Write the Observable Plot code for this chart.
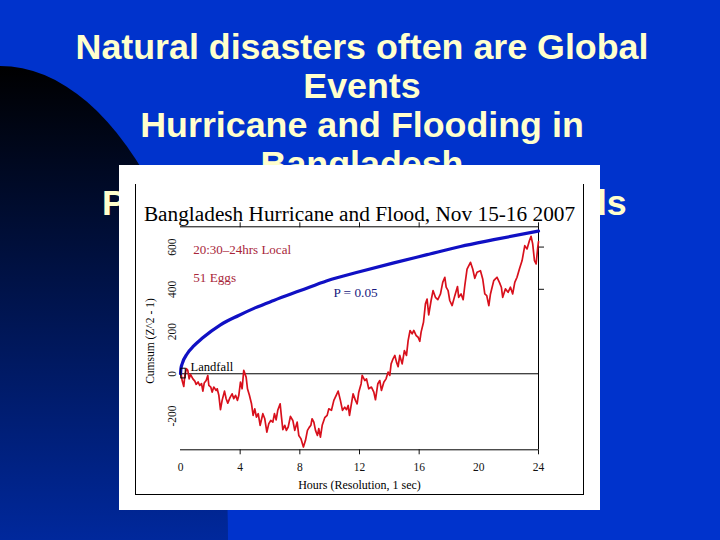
<!DOCTYPE html>
<html><head><meta charset="utf-8">
<script src="https://cdn.jsdelivr.net/npm/d3@7"></script>
<script src="https://cdn.jsdelivr.net/npm/@observablehq/plot@0.6"></script>
<style>
html,body{margin:0;padding:0;background:#0033cc;width:720px;height:540px;overflow:hidden}
#shape{position:absolute;left:-228px;top:66px;width:456px;height:948px;border-radius:50%;background:linear-gradient(#000 0,#00289c 474px,#00289c 100%)}
.t{position:absolute;left:2px;width:720px;text-align:center;font:bold 35.8px/39px "Liberation Sans",sans-serif;color:#ffffcc;white-space:nowrap}
#box{position:absolute;left:119px;top:165px;width:481px;height:345px;background:#fff}
#box svg{display:block;background:transparent}
#frame{position:absolute;left:135px;top:184px;width:447px;height:310px;border:1px solid #000;border-top:none;pointer-events:none}
</style></head><body>
<div id="shape"></div>
<div class="t" style="top:28px">Natural disasters often are Global</div>
<div class="t" style="top:67px">Events</div>
<div class="t" style="top:106px">Hurricane and Flooding in</div>
<div class="t" style="top:145px">Bangladesh</div>
<div class="t" style="top:184px;left:102px;width:auto">P</div>
<div class="t" style="top:184px;left:585px;width:auto">ds</div>
<div id="box"></div>
<div id="frame"></div>
<script>
const chartTitle = "Bangladesh Hurricane and Flood, Nov 15-16 2007";
const xLabel = "Hours (Resolution, 1 sec)";
const yLabel = "Cumsum (Z^2 - 1)";
const hourLabels = [0,4,8,12,16,20,24];
const hourTicks = [4,8,12,16,24];
const valueLabels = [-200,0,200,400,600];
const rightTicks = [400,600];

const envelopeHours = [0,0.03,0.11,0.45,0.89,1.45,2.68,3.9,5,6.25,8.04,9.83,12.06,14.3,16.53,18.77,21,24];
const envelopeValues = [0,25,47,95,132,168,232,276,312,347,394,441,484,525,564,603,635,676];

const redHours = [0,0.04,0.11,0.22,0.29,0.40,0.49,0.58,0.67,0.83,0.96,1.05,1.18,1.29,1.41,1.50,1.59,1.72,1.83,1.90,2.03,2.12,2.23,2.39,2.46,2.57,2.68,2.79,2.95,3.06,3.17,3.31,3.46,3.57,3.69,3.82,3.91,4.02,4.13,4.24,4.40,4.49,4.62,4.76,4.87,4.98,5.09,5.21,5.34,5.52,5.65,5.79,5.92,6.05,6.19,6.30,6.41,6.52,6.68,6.77,6.86,6.99,7.10,7.22,7.37,7.53,7.66,
7.82,7.93,8.07,8.24,8.38,8.51,8.62,8.74,8.82,8.94,9.05,9.18,9.27,9.38,9.50,9.67,9.83,9.94,10.12,10.28,10.43,10.57,10.72,10.86,11.01,11.13,11.24,11.33,11.44,11.57,11.73,11.84,11.95,12.11,12.18,12.36,12.47,12.62,12.80,12.96,13.07,13.23,13.36,13.47,13.63,13.78,13.92,14.03,14.12,14.25,14.37,14.48,14.59,14.70,14.86,15.01,15.15,15.26,
15.39,15.53,15.64,15.80,15.93,16.04,16.13,16.29,16.42,16.53,16.64,16.80,16.93,17.09,17.25,17.43,17.58,17.72,17.81,17.94,18.05,18.21,18.39,18.57,18.65,18.81,18.95,19.06,19.21,19.44,19.59,19.73,19.88,20.11,20.26,20.40,20.53,20.67,20.78,20.89,21.0,21.11,21.22,21.38,21.51,21.60,21.78,21.96,22.12,22.27,22.41,22.56,22.72,22.90,23.08,23.23,23.39,23.50,23.61,23.73,23.84,23.95,24.0];
const redValues = [0,0,-32,-60,-8,24,16,-24,-3,-24,-35,-50,-39,-55,-47,-82,-44,-32,-8,-55,-63,-87,-63,-79,-71,-102,-170,-126,-82,-118,-139,-114,-95,-118,-102,-126,-102,-39,-71,16,-16,-71,-102,-142,-197,-166,-205,-189,-244,-189,-213,-276,-236,-221,-229,-189,-218,-173,-142,-205,-265,-244,-268,-252,-202,-221,-268,
-229,-292,-307,-347,-315,-268,-255,-244,-213,-229,-268,-292,-260,-300,-244,-208,-197,-166,-173,-126,-103,-82,-126,-173,-158,-170,-150,-197,-150,-95,-126,-142,-87,-47,-8,-32,-24,-71,-63,-87,-123,-47,-32,-79,-40,-24,8,-8,47,71,87,55,34,87,47,110,87,157,
205,189,205,181,173,154,197,244,331,354,279,347,394,362,351,378,433,457,410,394,347,323,370,413,362,378,351,418,496,528,496,452,481,488,449,378,370,323,378,410,441,449,457,433,410,362,402,386,410,378,433,457,496,536,607,591,630,651,615,536,520,599,626];

const envelope = envelopeHours.map((h,i)=>({h,v:envelopeValues[i]}));
const red = redHours.map((h,i)=>({h,v:redValues[i]}));
const serif = "Liberation Serif, serif";

const chart = Plot.plot({
  width:481,height:345,
  marginLeft:61,marginRight:62,marginTop:61.3,marginBottom:60.7,
  style:{background:"transparent",fontFamily:serif,fontSize:"11.5px",color:"#111"},
  x:{domain:[0,24]},
  y:{domain:[-360,696]},
  marks:[
    Plot.ruleY([-360,0,696],{x1:0,x2:24,stroke:"#000",strokeWidth:1}),
    Plot.ruleX([24],{y1:-360,y2:696,stroke:"#000",strokeWidth:1}),
    Plot.axisX({ticks:hourTicks,anchor:"bottom",tickSize:5,tickFormat:()=>"",label:null}),
    Plot.axisX({ticks:hourTicks,anchor:"top",tickSize:5,tickFormat:()=>"",label:null}),
    Plot.axisY({ticks:rightTicks,anchor:"right",tickSize:5,tickFormat:()=>"",label:null}),
    Plot.axisX({ticks:hourLabels,anchor:"bottom",tickSize:0,tickPadding:13,label:null,tickFormat:d=>String(d)}),
    Plot.axisY({ticks:valueLabels,anchor:"left",tickSize:0,tickPadding:5,label:null,tickRotate:-90,textAnchor:"middle",tickFormat:d=>String(d)}),
    Plot.line(red,{x:"h",y:"v",stroke:"#d8101c",strokeWidth:1.7,curve:"linear"}),
    Plot.line(envelope,{x:"h",y:"v",stroke:"#1010c4",strokeWidth:3.2,curve:"monotone-x"}),
    Plot.rect([{x1:0.05,x2:0.35,y1:-22,y2:24}],{x1:"x1",x2:"x2",y1:"y1",y2:"y2",fill:"none",stroke:"#000",strokeWidth:1}),
    Plot.text([chartTitle],{x:[12],y:[757],text:d=>d,fontSize:21.3,fill:"#000",fontFamily:serif}),
    Plot.text(["20:30–24hrs Local"],{x:[0.85],y:[585],text:d=>d,fontSize:13,fill:"#a8263a",textAnchor:"start"}),
    Plot.text(["51 Eggs"],{x:[0.85],y:[455],text:d=>d,fontSize:13.2,fill:"#a8263a",textAnchor:"start"}),
    Plot.text(["P = 0.05"],{x:[10.25],y:[385],text:d=>d,fontSize:13.3,fill:"#1a1a80",textAnchor:"start"}),
    Plot.text(["Landfall"],{x:[0.67],y:[33],text:d=>d,fontSize:12.6,fill:"#000",textAnchor:"start"}),
    Plot.text([xLabel],{x:[12],y:[-528],text:d=>d,fontSize:12,fill:"#000"}),
    Plot.text([yLabel],{x:[-2.02],y:[155],text:d=>d,fontSize:11.5,fill:"#000",rotate:-90})
  ]
});
document.getElementById("box").appendChild(chart);
</script>
</body></html>
